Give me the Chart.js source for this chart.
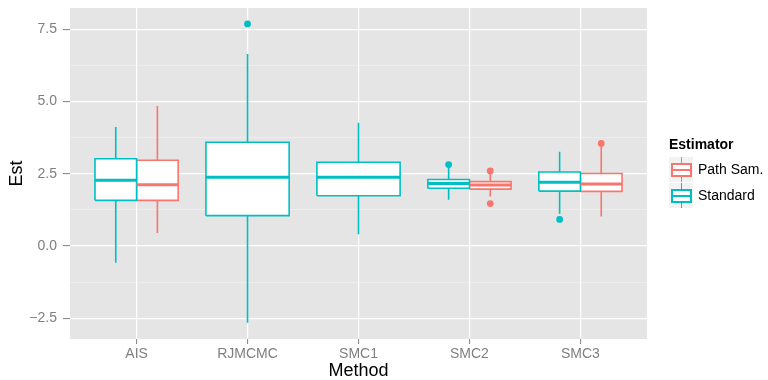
<!DOCTYPE html>
<html>
<head>
<meta charset="utf-8">
<script src="https://cdn.jsdelivr.net/npm/chart.js@4"></script>
<style>
  body { margin: 0; background: #fff; font-family: "Liberation Sans", Arial, sans-serif; }
  #wrap { position: relative; width: 768px; height: 380px; }
  .legend-title { position: absolute; left: 669px; top: 136px; font-size: 14px; line-height: 16px; font-weight: bold; color: #000; }
  .legend-text { position: absolute; left: 698px; font-size: 14px; line-height: 16px; color: #000; white-space: nowrap; }
  .key { position: absolute; left: 669px; width: 24px; height: 25px; background: #F2F2F2; }
  .key .whisker { position: absolute; left: 11.5px; top: 0; width: 1.5px; height: 25px; }
  .key .box { position: absolute; left: 1.5px; top: 6px; width: 17px; height: 10px; border: 2px solid; background: #fff; }
  .key .median { position: absolute; left: 0; top: 4px; width: 17px; height: 2px; }
</style>
</head>
<body>
<div id="wrap">
  <canvas id="chart" width="768" height="380"></canvas>
  <div class="legend-title">Estimator</div>
  <div class="key" style="top:157px">
    <div class="whisker" style="background:#F8766D"></div>
    <div class="box" style="border-color:#F8766D"><div class="median" style="background:#F8766D"></div></div>
  </div>
  <div class="legend-text" style="top:161px">Path Sam.</div>
  <div class="key" style="top:183px">
    <div class="whisker" style="background:#00BFC4"></div>
    <div class="box" style="border-color:#00BFC4"><div class="median" style="background:#00BFC4"></div></div>
  </div>
  <div class="legend-text" style="top:187px">Standard</div>
</div>
<script>
// categories
const methods = ['AIS', 'RJMCMC', 'SMC1', 'SMC2', 'SMC3'];
const yTicks = [-2.5, 0, 2.5, 5, 7.5];

// Standard estimator
const stdLower   = [-0.58, -2.66, 0.41, 1.60, 1.12];
const stdQ1      = [1.58, 1.05, 1.74, 2.00, 1.90];
const stdMedian  = [2.28, 2.38, 2.38, 2.16, 2.21];
const stdQ3      = [3.02, 3.59, 2.90, 2.30, 2.56];
const stdUpper   = [4.12, 6.65, 4.27, 2.76, 3.26];
const stdOutliers = [[], [7.69], [], [2.82], [0.92]];

// Path sampling estimator (missing for RJMCMC and SMC1)
const pathLower   = [0.45, null, null, 1.71, 1.02];
const pathQ1      = [1.58, null, null, 1.97, 1.89];
const pathMedian  = [2.12, null, null, 2.11, 2.15];
const pathQ3      = [2.97, null, null, 2.23, 2.51];
const pathUpper   = [4.85, null, null, 2.56, 3.50];
const pathOutliers = [[], [], [], [2.60, 1.47], [3.55]];

const teal = '#00BFC4';
const salmon = '#F8766D';

// box geometry in category units (ggplot: width 0.75, dodged in two)
function boxPlacement(i) {
  const both = pathMedian[i] !== null;
  return {
    std: { center: both ? i - 0.1875 : i, half: both ? 0.1875 : 0.375 },
    path: { center: i + 0.1875, half: 0.1875 },
  };
}

function buildSeries(lower, q1, median, q3, upper, outliers, color, key) {
  const sets = [];
  const whiskers = [];
  const medians = [];
  const points = [];
  methods.forEach((m, i) => {
    if (median[i] === null) return;
    const { center, half } = boxPlacement(i)[key];
    const l = center - half, r = center + half;
    sets.push({
      type: 'scatter',
      showLine: true,
      data: [
        { x: l, y: q1[i] }, { x: r, y: q1[i] }, { x: r, y: q3[i] },
        { x: l, y: q3[i] }, { x: l, y: q1[i] },
      ],
      borderColor: color,
      borderWidth: 1.6,
      backgroundColor: '#ffffff',
      fill: 'shape',
      pointRadius: 0,
      tension: 0,
      order: 2,
    });
    whiskers.push({ x: center, y: q3[i] }, { x: center, y: upper[i] }, { x: center, y: null });
    whiskers.push({ x: center, y: q1[i] }, { x: center, y: lower[i] }, { x: center, y: null });
    medians.push({ x: l, y: median[i] }, { x: r, y: median[i] }, { x: r, y: null });
    outliers[i].forEach(v => points.push({ x: center, y: v }));
  });
  sets.push({
    type: 'scatter', showLine: true, spanGaps: false, data: whiskers,
    borderColor: color, borderWidth: 1.6, pointRadius: 0, fill: false, order: 3,
  });
  sets.push({
    type: 'scatter', showLine: true, spanGaps: false, data: medians,
    borderColor: color, borderWidth: 3, pointRadius: 0, fill: false, order: 1,
  });
  sets.push({
    type: 'scatter', data: points, showLine: false,
    pointRadius: 3.4, pointBackgroundColor: color, pointBorderWidth: 0, order: 0,
  });
  return sets;
}

const datasets = [
  ...buildSeries(stdLower, stdQ1, stdMedian, stdQ3, stdUpper, stdOutliers, teal, 'std'),
  ...buildSeries(pathLower, pathQ1, pathMedian, pathQ3, pathUpper, pathOutliers, salmon, 'path'),
];

const panelBg = {
  id: 'panelBg',
  beforeDraw(chart) {
    const { ctx, chartArea: a } = chart;
    ctx.save();
    ctx.fillStyle = '#E5E5E5';
    ctx.fillRect(a.left, a.top, a.right - a.left, a.bottom - a.top);
    ctx.restore();
  },
};

const isMajor = v => yTicks.includes(v);
const font = 'Liberation Sans';

new Chart(document.getElementById('chart'), {
  type: 'scatter',
  data: { datasets },
  plugins: [panelBg],
  options: {
    responsive: false,
    animation: false,
    layout: { padding: { left: 0, right: 121, top: 8, bottom: 0 } },
    plugins: { legend: { display: false }, tooltip: { enabled: false } },
    scales: {
      x: {
        type: 'linear',
        min: -0.6,
        max: 4.6,
        afterBuildTicks: (scale) => { scale.ticks = methods.map((m, i) => ({ value: i })); },
        afterFit: (scale) => { scale.height = 41; scale.paddingLeft = 0; scale.paddingRight = 0; },
        border: { display: false },
        grid: { color: '#ffffff', lineWidth: 1.2, tickLength: 5, tickColor: '#7F7F7F', tickWidth: 1 },
        ticks: {
          autoSkip: false, maxRotation: 0, padding: 2,
          color: '#7F7F7F', font: { family: font, size: 14 },
          callback: (v) => methods[v],
        },
        title: {
          display: true, text: 'Method', color: '#000',
          font: { family: font, size: 18, lineHeight: 1 }, padding: 0,
        },
      },
      y: {
        type: 'linear',
        min: -3.22,
        max: 8.24,
        afterBuildTicks: (scale) => {
          // majors plus ggplot-style minor breaks halfway between them
          const vals = [];
          yTicks.forEach((t, k) => {
            vals.push(t);
            if (k < yTicks.length - 1) vals.push((t + yTicks[k + 1]) / 2);
          });
          scale.ticks = vals.map(v => ({ value: v }));
        },
        afterFit: (scale) => { scale.width = 70; scale.paddingTop = 0; scale.paddingBottom = 0; },
        border: { display: false },
        grid: {
          color: (c) => isMajor(c.tick.value) ? '#ffffff' : '#F2F2F2',
          lineWidth: (c) => isMajor(c.tick.value) ? 1.2 : 0.6,
          tickLength: 7,
          tickColor: (c) => isMajor(c.tick.value) ? '#7F7F7F' : 'rgba(0,0,0,0)',
          tickWidth: 1,
        },
        ticks: {
          autoSkip: false, padding: 6,
          color: '#7F7F7F', font: { family: font, size: 14 },
          callback: (v) => isMajor(v) ? v.toFixed(1).replace('-', '\u2212') : '',
        },
        title: {
          display: true, text: 'Est', color: '#000',
          font: { family: font, size: 18, lineHeight: 1 }, padding: { top: 8 },
        },
      },
    },
  },
});
</script>
</body>
</html>
